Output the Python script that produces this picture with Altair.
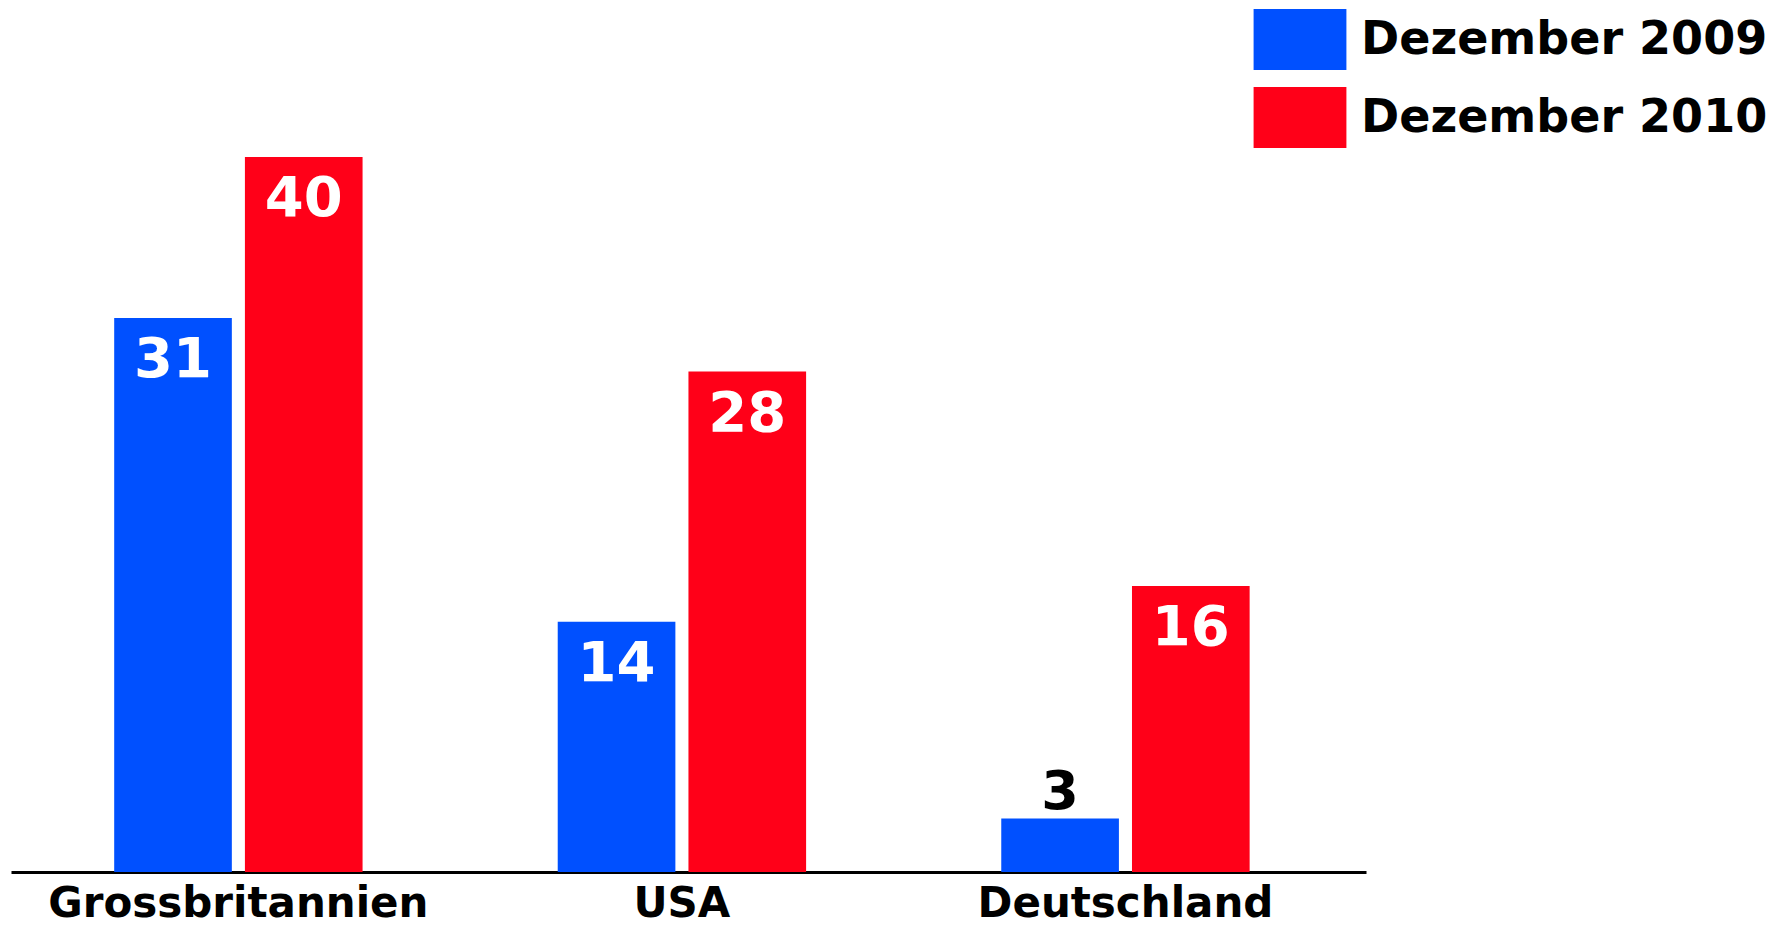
import altair as alt
import pandas as pd

countries = ["Grossbritannien", "USA", "Deutschland"]
periods = ["Dezember 2009", "Dezember 2010"]
dec2009 = [31, 14, 3]
dec2010 = [40, 28, 16]
colors = ["#0050ff", "#ff0018"]

rows = []
for c, a, b in zip(countries, dec2009, dec2010):
    rows.append({"land": c, "periode": periods[0], "wert": a})
    rows.append({"land": c, "periode": periods[1], "wert": b})
df = pd.DataFrame(rows)

FONT = "DejaVu Sans"

x = alt.X("land:N", sort=countries, title=None,
          scale=alt.Scale(paddingInner=0.44, paddingOuter=0.2475, align=0.47),
          axis=alt.Axis(labelAngle=0, labelFont=FONT, labelFontSize=42, labelFontWeight="bold",
                        labelColor="black", labelPadding=11, ticks=False, domainColor="black",
                        domainWidth=3, labelLimit=0))
xo = alt.XOffset("periode:N", sort=periods, scale=alt.Scale(paddingInner=0.1, paddingOuter=0))
y = alt.Y("wert:Q", scale=alt.Scale(domain=[0, 40], nice=False, zero=True), axis=None)

legend_path = "M-1.19,-0.78H1.19V0.78H-1.19Z"

bars = alt.Chart(df).mark_bar().encode(
    x=x, xOffset=xo, y=y,
    color=alt.Color("periode:N", sort=periods,
                    scale=alt.Scale(domain=periods, range=colors),
                    legend=alt.Legend(title=None, orient="none", legendX=1250, legendY=-156.5,
                                      symbolType=legend_path, symbolSize=6084,
                                      symbolStrokeWidth=0, symbolOpacity=1,
                                      labelFont=FONT, labelFontSize=46, labelFontWeight="bold",
                                      labelColor="black", labelOffset=22, labelLimit=0,
                                      rowPadding=8, padding=0))
)

inside = alt.Chart(df).transform_filter("datum.wert >= 5").mark_text(
    font=FONT, fontSize=56, fontWeight="bold", color="white", baseline="alphabetic", dy=59
).encode(x=x, xOffset=xo, y=y, text="wert:Q")

outside = alt.Chart(df).transform_filter("datum.wert < 5").mark_text(
    font=FONT, fontSize=54, fontWeight="bold", color="black", baseline="alphabetic", dy=-9
).encode(x=x, xOffset=xo, y=y, text="wert:Q")

chart = alt.layer(bars, inside, outside).properties(
    width=1355, height=715,
    background="white",
    autosize=alt.AutoSizeParams(type="none"),
    padding={"left": 11, "top": 157, "right": 415, "bottom": 55},
).configure_view(strokeWidth=0, stroke=None)

chart.save("out.html", embed_options={"renderer": "svg", "actions": False})
